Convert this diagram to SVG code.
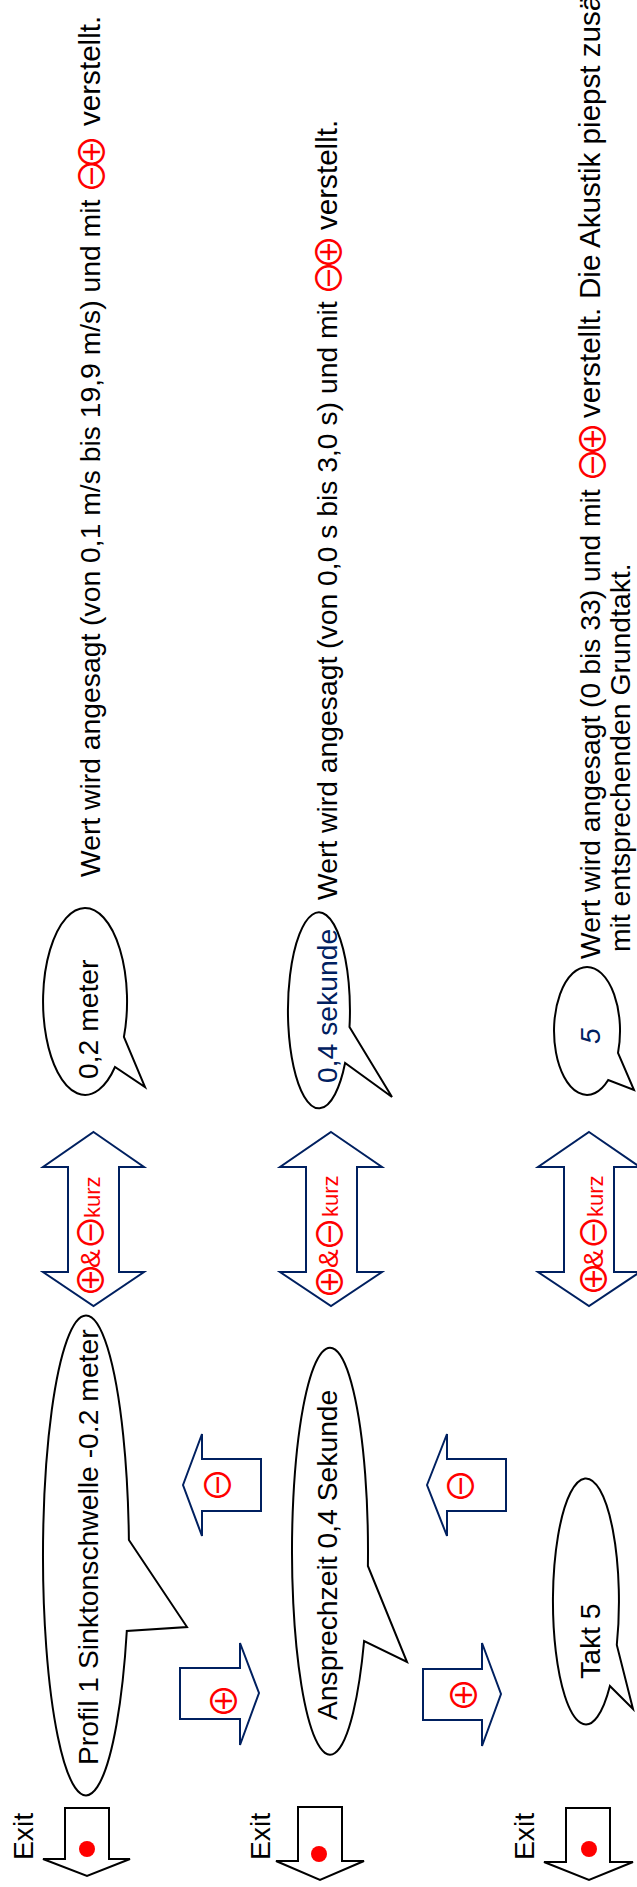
<svg xmlns="http://www.w3.org/2000/svg" width="637" height="1887" viewBox="0 0 637 1887">
  <style>
    .t{font-family:"Liberation Sans",Arial,sans-serif;font-size:28.3px;fill:#000}
    .w{font-size:29.6px}
    .k{font-family:"Liberation Sans",Arial,sans-serif;font-size:22px;fill:#f00}
    .amp{font-family:"Liberation Sans",Arial,sans-serif;font-size:28px;fill:#f00}
    .sym{font-family:"Noto Sans CJK JP","DejaVu Sans",sans-serif;font-size:35px;fill:#f00;text-anchor:middle;dominant-baseline:central}
    .navy{fill:#002060}
    .bubble{fill:#fff;stroke:#000;stroke-width:2}
    .exit{fill:#fff;stroke:#000;stroke-width:2}
    .blk{fill:#fff;stroke:#002060;stroke-width:2}
    .dot{fill:#f00}
  </style>
  <rect width="637" height="1887" fill="#fff"/>

  <!-- block arrows between the states -->
  <g id="connectors">
    <g id="exit-1"><polygon class="exit" points="65,1808 109,1808 109,1859 130,1859 87,1876 43,1859 65,1859"/><circle class="dot" cx="87" cy="1849" r="8"/></g>
    <g id="exit-2"><polygon class="exit" points="298,1807 342,1807 342,1861 364,1861 320,1880 276,1861 298,1861"/><circle class="dot" cx="319" cy="1854" r="8"/></g>
    <g id="exit-3"><polygon class="exit" points="566,1808 610,1808 610,1862 633,1862 589,1880 544,1862 566,1862"/><circle class="dot" cx="589" cy="1849" r="8"/></g>

    <g id="plus-1"><polygon class="blk" points="180,1668 240,1668 240,1643 259,1693 240,1745 240,1719 180,1719"/>
      <text class="sym" font-size="34" transform="translate(221,1701) rotate(-90)">⊕</text></g>
    <g id="plus-2"><polygon class="blk" points="423,1669 482,1669 482,1643 501,1694 482,1746 482,1720 423,1720"/>
      <text class="sym" font-size="34" transform="translate(461,1695) rotate(-90)">⊕</text></g>

    <g id="minus-1"><polygon class="blk" points="183,1485 202,1434 202,1459 261,1459 261,1511 202,1511 202,1536"/>
      <text class="sym" font-size="37" transform="translate(215.5,1485) rotate(-90)">⊖</text></g>
    <g id="minus-2"><polygon class="blk" points="427,1485 447,1434 447,1459 506,1459 506,1511 447,1511 447,1536"/>
      <text class="sym" font-size="37" transform="translate(458,1486) rotate(-90)">⊖</text></g>

    <g id="both-1"><polygon class="blk" points="93.5,1132 144,1167 119,1167 119,1272 144,1272 93.5,1306 43,1272 68,1272 68,1167 43,1167"/>
      <text class="sym" font-size="34" transform="translate(88.5,1280) rotate(-90)">⊕</text>
      <text class="sym" font-size="34" transform="translate(88.5,1232.5) rotate(-90)">⊖</text>
      <text transform="translate(100,1292) rotate(-90)"><tspan class="amp" x="24">&amp;</tspan><tspan class="k" x="74">kurz</tspan></text></g>
    <g id="both-2"><polygon class="blk" points="331,1132 382,1167 357,1167 357,1272 382,1272 331,1306 280,1272 306,1272 306,1167 280,1167"/>
      <text class="sym" font-size="34" transform="translate(327,1282) rotate(-90)">⊕</text>
      <text class="sym" font-size="34" transform="translate(327,1234) rotate(-90)">⊖</text>
      <text transform="translate(338,1292) rotate(-90)"><tspan class="amp" x="24">&amp;</tspan><tspan class="k" x="75">kurz</tspan></text></g>
    <g id="both-3"><polygon class="blk" points="589,1132 640,1167 614,1167 614,1272 640,1272 589,1306 538,1272 564,1272 564,1167 538,1167"/>
      <text class="sym" font-size="34" transform="translate(591,1279) rotate(-90)">⊕</text>
      <text class="sym" font-size="34" transform="translate(591,1232.5) rotate(-90)">⊖</text>
      <text transform="translate(603,1291) rotate(-90)"><tspan class="amp" x="23">&amp;</tspan><tspan class="k" x="74">kurz</tspan></text></g>
  </g>

  <!-- exit labels -->
  <g id="exit-labels">
    <text class="t" transform="translate(33,1860) rotate(-90)">Exit</text>
    <text class="t" transform="translate(270,1860) rotate(-90)">Exit</text>
    <text class="t" transform="translate(534,1860) rotate(-90)">Exit</text>
  </g>

  <!-- menu entries -->
  <g id="profil">
    <path class="bubble" d="M128.9,1540 A43,240 0 1 0 126.8,1631 L187,1627 Z"/>
    <text class="t" transform="translate(98,1765) rotate(-90)">Profil 1 Sinktonschwelle -0.2 meter</text>
  </g>
  <g id="ansprechzeit">
    <path class="bubble" d="M367.9,1566 A38,203.5 0 1 0 364.1,1641 L407,1662 Z"/>
    <text class="t" transform="translate(337,1720) rotate(-90)">Ansprechzeit 0,4 Sekunde</text>
  </g>
  <g id="takt">
    <path class="bubble" d="M616.8,1645 A33,123 0 1 0 609.9,1686 L633,1709 Z"/>
    <text class="t" transform="translate(600,1679) rotate(-90)">Takt 5</text>
  </g>

  <!-- spoken values -->
  <g id="value-meter">
    <path class="bubble" d="M123.9,1037 A42,93.5 0 1 0 115,1067 L145,1087 Z"/>
    <text class="t" transform="translate(98,1079) rotate(-90)">0,2 meter</text>
  </g>
  <g id="value-sekunde">
    <path class="bubble" d="M349.5,1027 A31,98 0 1 0 345.1,1063 L392,1097 Z"/>
    <text class="t navy" transform="translate(337,1083) rotate(-90)">0,4 sekunde</text>
  </g>
  <g id="value-takt">
    <path class="bubble" d="M618,1053 A33,64 0 1 0 608.2,1080 L634,1090 Z"/>
    <text class="t navy" font-style="italic" transform="translate(600,1044) rotate(-90)">5</text>
  </g>

  <!-- descriptions -->
  <g id="desc-1">
    <text class="t" transform="translate(100,877) rotate(-90)">Wert wird angesagt (von 0,1 m/s bis 19,9 m/s) und mit<tspan class="w" x="751">verstellt.</tspan></text>
    <text class="sym" transform="translate(89,176) rotate(-90)">⊖</text>
    <text class="sym" transform="translate(89,152) rotate(-90)">⊕</text>
  </g>
  <g id="desc-2">
    <text class="t" transform="translate(337,900) rotate(-90)">Wert wird angesagt (von 0,0 s bis 3,0 s) und mit<tspan class="w" x="670">verstellt.</tspan></text>
    <text class="sym" transform="translate(326,278) rotate(-90)">⊖</text>
    <text class="sym" transform="translate(326,252) rotate(-90)">⊕</text>
  </g>
  <g id="desc-3">
    <text class="t" transform="translate(600,959) rotate(-90)">Wert wird angesagt (0 bis 33) und mit<tspan class="w" x="541">verstellt.</tspan><tspan class="w" x="660">Die Akustik piepst zusätzlich</tspan></text>
    <text class="sym" transform="translate(590,465) rotate(-90)">⊖</text>
    <text class="sym" transform="translate(590,439) rotate(-90)">⊕</text>
    <text class="t" transform="translate(630,952) rotate(-90)">mit entsprechenden Grundtakt.</text>
  </g>
</svg>
